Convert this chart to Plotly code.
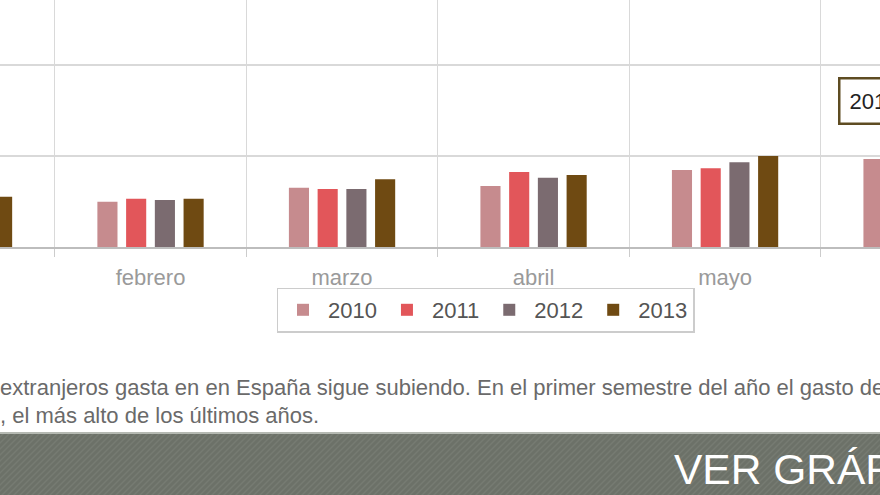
import plotly.graph_objects as go

meses = ["enero", "febrero", "marzo", "abril", "mayo", "junio"]
anios = ["2010", "2011", "2012", "2013"]
gasto_2010 = [2500, 2490, 3260, 3350, 4230, 4835]
gasto_2011 = [2600, 2655, 3185, 4120, 4325, 4950]
gasto_2012 = [2650, 2580, 3185, 3810, 4655, 5150]
gasto_2013 = [2765, 2655, 3720, 3955, 5000, 5500]
series = [gasto_2010, gasto_2011, gasto_2012, gasto_2013]
colores = ["#c68b8e", "#e2565a", "#7b6b70", "#6f4a12"]

texto_l1 = "extranjeros gasta en en España sigue subiendo. En el primer semestre del año el gasto de"
texto_l2 = ", el más alto de los últimos años."
boton = "VER GRÁFICO"
tooltip = "2010: 4.835"

W, H = 880, 495
plot_bottom = 247

def py(p):
    return (plot_bottom - p) / plot_bottom

fig = go.Figure()
for anio, vals, col in zip(anios, series, colores):
    fig.add_trace(go.Bar(x=meses, y=vals, name=anio, marker=dict(color=col, line=dict(width=0))))

shapes = []
shapes.append(dict(type="rect", xref="paper", yref="paper", x0=0, x1=1, y0=py(432), y1=py(500),
                   fillcolor="#6c7168", line=dict(width=0), layer="above"))
segs = []
for k in range(-20, 160):
    x0 = k * 6
    segs.append(f"M{x0/W:.5f},{py(497):.5f} L{(x0+65)/W:.5f},{py(432):.5f}")
shapes.append(dict(type="path", xref="paper", yref="paper", path=" ".join(segs),
                   line=dict(color="rgba(255,255,255,0.07)", width=1.5), layer="above"))
shapes.append(dict(type="line", xref="paper", yref="paper", x0=0, x1=1, y0=py(433), y1=py(433),
                   line=dict(color="#b5b9b2", width=2), layer="above"))

annotations = [
    dict(text=texto_l1, xref="paper", yref="paper", x=-0.002, y=py(387), xanchor="left", yanchor="middle",
         showarrow=False, font=dict(family="Liberation Sans", size=22, color="#6a6a6a")),
    dict(text=texto_l2, xref="paper", yref="paper", x=-0.002, y=py(415), xanchor="left", yanchor="middle",
         showarrow=False, font=dict(family="Liberation Sans", size=22, color="#6a6a6a")),
    dict(text=boton, xref="paper", yref="paper", x=672/W, y=py(469), xanchor="left",
         yanchor="middle", showarrow=False, font=dict(family="Liberation Sans", size=42.5, color="#ffffff")),
    dict(text=tooltip, xref="paper", yref="paper", x=838/W, y=py(100.5), xanchor="left", yanchor="middle",
         showarrow=False, font=dict(family="Liberation Sans", size=22, color="#222222"),
         bgcolor="#ffffff", bordercolor="#5e4c22", borderwidth=2.5, borderpad=9),
]

fig.update_layout(
    width=W, height=H,
    margin=dict(l=0, r=0, t=0, b=H - plot_bottom),
    paper_bgcolor="#ffffff", plot_bgcolor="#ffffff",
    barmode="group", bargap=0.4, bargroupgap=0.3,
    showlegend=True,
    legend=dict(orientation="h", x=485.5 / W, xanchor="center", y=py(310), yanchor="middle",
                bgcolor="#ffffff", bordercolor="#cccccc", borderwidth=1.5,
                font=dict(family="Liberation Sans", size=22, color="#555555"),
                itemwidth=40, traceorder="normal"),
    font=dict(family="Liberation Sans"),
    xaxis=dict(type="category", range=[0.214, 4.809], showgrid=True, gridcolor="#d9d9d9", gridwidth=1,
               tickson="boundaries", ticks="outside", ticklen=8, tickcolor="#cccccc",
               showline=True, linecolor="#bdbdbd", linewidth=1.5, ticklabelstandoff=10,
               tickfont=dict(family="Liberation Sans", size=22, color="#9a9a9a"), zeroline=False),
    yaxis=dict(range=[0, 5000 * plot_bottom / 91], dtick=5000, showgrid=True, gridcolor="#d9d9d9",
               gridwidth=1.5, showticklabels=False, zeroline=False, ticks=""),
    shapes=shapes, annotations=annotations,
    hovermode=False,
)

fig.write_html("out.html")
